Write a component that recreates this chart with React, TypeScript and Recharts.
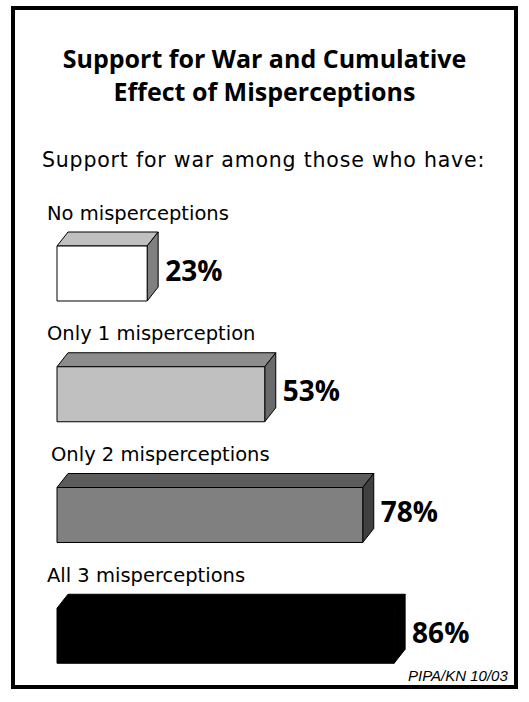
import React from 'react';
import { BarChart, Bar, XAxis, YAxis, LabelList } from 'recharts';

const categories = ['No misperceptions', 'Only 1 misperception', 'Only 2 misperceptions', 'All 3 misperceptions'];
const support = [23, 53, 78, 86];

const data = categories.map((name, i) => ({ name, support: support[i] }));

const FONT = '"Open Sans", "DejaVu Sans", sans-serif';
const WIDE = '"DejaVu Sans", sans-serif';

// front / top / side shades for each bar
const shades = [
  { front: '#ffffff', top: '#c0c0c0', side: '#808080' },
  { front: '#c0c0c0', top: '#8c8c8c', side: '#6a6a6a' },
  { front: '#808080', top: '#5c5c5c', side: '#404040' },
  { front: '#000000', top: '#000000', side: '#000000' },
];

const DX = 11;
const DY = 14;

const Bar3D = (props: any) => {
  const { x, y, width, height, index } = props;
  const c = shades[index] || shades[0];
  const r = x + width;
  const b = y + height;
  return (
    <g stroke="#000" strokeWidth={1} strokeLinejoin="round">
      <polygon points={`${x},${y} ${x + DX},${y - DY} ${r + DX},${y - DY} ${r},${y}`} fill={c.top} />
      <polygon points={`${r},${y} ${r + DX},${y - DY} ${r + DX},${b - DY} ${r},${b}`} fill={c.side} />
      <rect x={x} y={y} width={width} height={height} fill={c.front} />
    </g>
  );
};

const CategoryLabel = (props: any) => {
  const { x, y, value, index } = props;
  return (
    <text x={x - 10 + (index === 2 ? 4 : 0)} y={y - 33} dominantBaseline="central" fontFamily={WIDE} fontSize={19.5} fill="#000">
      {value}
    </text>
  );
};

const ValueLabel = (props: any) => {
  const { x, y, width, height, value } = props;
  return (
    <text x={x + width + DX + 7} y={y + height / 2 - 4} dominantBaseline="central" fontFamily={FONT} fontSize={28} fontWeight={700} fill="#000">
      {`${value}%`}
    </text>
  );
};

export default function App() {
  return (
    <div style={{ position: 'absolute', left: 0, top: 0, width: 529, height: 702, background: '#fff', fontFamily: FONT }}>
      <div style={{ position: 'absolute', left: 11, top: 6, width: 499, height: 675, border: '4px solid #000' }} />
      <div style={{ position: 'absolute', left: 0, top: 42, width: 529, textAlign: 'center', fontSize: 25, fontWeight: 700, lineHeight: '33px' }}>
        Support for War and Cumulative
        <br />
        Effect of Misperceptions
      </div>
      <div style={{ position: 'absolute', left: 42, top: 148, fontFamily: WIDE, fontSize: 20.5, letterSpacing: 0.8, whiteSpace: 'nowrap' }}>
        Support for war among those who have:
      </div>
      <div style={{ position: 'absolute', left: 0, top: 0 }}>
        <BarChart
          width={529}
          height={702}
          data={data}
          layout="vertical"
          margin={{ top: 213, right: 80, bottom: 6, left: 57 }}
        >
          <XAxis type="number" domain={[0, 100]} hide />
          <YAxis type="category" dataKey="name" hide />
          <Bar dataKey="support" barSize={55} shape={<Bar3D />} isAnimationActive={false}>
            <LabelList dataKey="name" content={<CategoryLabel />} />
            <LabelList dataKey="support" content={<ValueLabel />} />
          </Bar>
        </BarChart>
      </div>
      <div
        style={{
          position: 'absolute',
          left: 408,
          top: 667,
          fontFamily: '"Liberation Sans", sans-serif',
          fontSize: 15,
          fontStyle: 'italic',
        }}
      >
        PIPA/KN 10/03
      </div>
    </div>
  );
}
